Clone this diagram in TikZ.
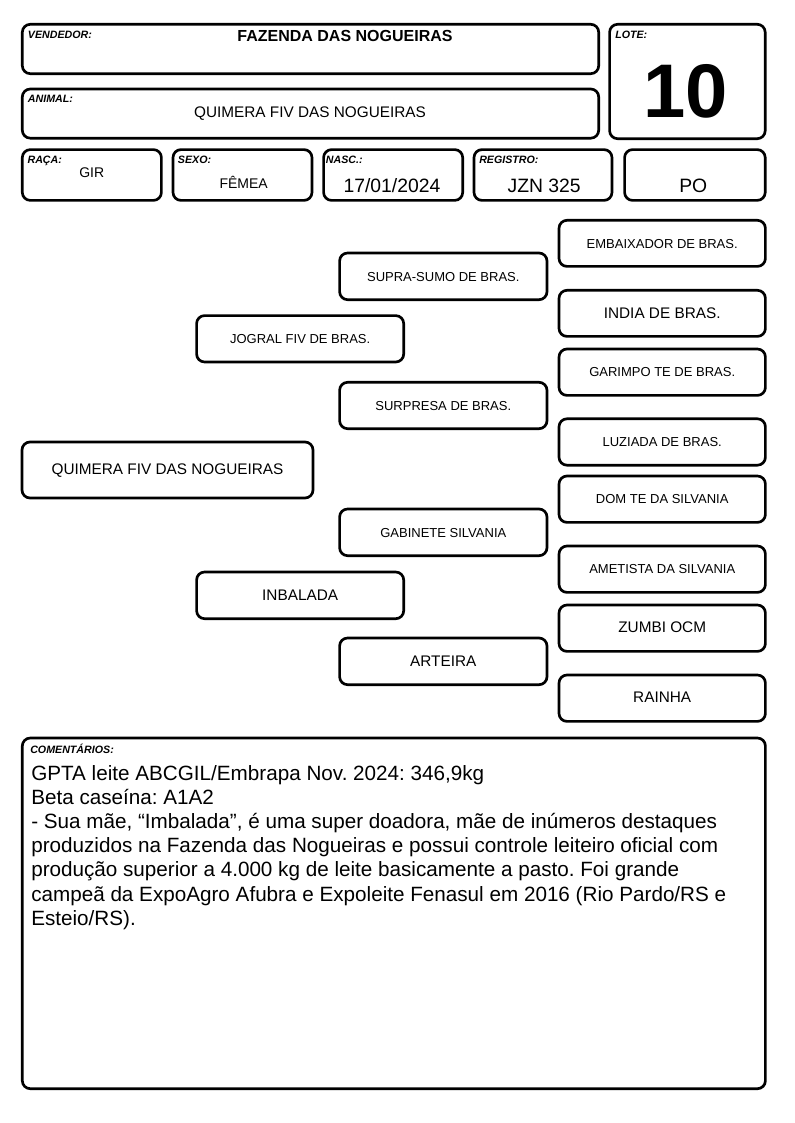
\documentclass[tikz,border=0pt]{standalone}
\usepackage{fontspec}
\setmainfont{Liberation Sans}
\usetikzlibrary{calc}
\frenchspacing
\tikzset{
  frame/.style={draw=black, line width=2pt, rounded corners=6pt},
  lbl/.style={anchor=base west, inner sep=0, font=\fontsize{8}{9}\selectfont\bfseries\itshape},
  val/.style={anchor=base, inner sep=0},
  ptext/.style={inner sep=0, text height=0.716em, text depth=0pt},
  small/.style={font=\fontsize{9.75}{11}\selectfont},
  big/.style={font=\fontsize{11.5}{13}\selectfont}
}
% \cardbox{name}{x1}{y1}{x2}{y2} : outer edges of a rounded box
\newcommand{\cardbox}[5]{%
  \draw[frame] ($(#2,#3)+(1.3,1.3)$) rectangle ($(#4,#5)+(-1.3,-1.3)$);
  \coordinate (#1) at ($(#2,#3)!0.5!(#4,#5)$);}
% \pedbox{name}{x1}{y1}{x2}{y2}{style}{text}
\newcommand{\pedbox}[7]{%
  \cardbox{#1box}{#2}{#3}{#4}{#5}
  \node[ptext,#6] (#1) at (#1box) {#7};}
\begin{document}
\begin{tikzpicture}[x=0.75pt,y=-0.75pt]
\useasboundingbox (0,0) rectangle (794,1123);
\fill[white] (0,0) rectangle (794,1123);

% ---------- header ----------
\cardbox{vend}{21}{23}{600}{75}
\node[lbl] (vendlbl) at (27.7,39) {VENDEDOR:};
\node[val, font=\fontsize{12}{14}\selectfont\bfseries] (vendval) at (345,42) {FAZENDA DAS NOGUEIRAS};

\cardbox{lote}{608.3}{23}{766.5}{140}
\node[lbl] (lotelbl) at (615,39) {LOTE:};
\node[inner sep=0, font=\fontsize{57}{60}\selectfont\bfseries] (loteval) at (686,91.7) {10};

\cardbox{anim}{21}{87.7}{600}{139.5}
\node[lbl] (animlbl) at (27.7,103) {ANIMAL:};
\node[val, font=\fontsize{11.5}{13}\selectfont] (animval) at (310,118) {QUIMERA FIV DAS NOGUEIRAS};

\cardbox{raca}{21}{148.3}{162.7}{201.7}
\node[lbl] (racalbl) at (27.3,164) {RAÇA:};
\node[val, font=\fontsize{10.5}{12}\selectfont] (racaval) at (91.8,178) {GIR};

\cardbox{sexo}{171.7}{148.3}{313.3}{201.7}
\node[lbl] (sexolbl) at (177.7,164) {SEXO:};
\node[val, font=\fontsize{10.5}{12}\selectfont] (sexoval) at (243.7,189) {FÊMEA};

\cardbox{nasc}{322.3}{148.3}{464}{201.7}
\node[lbl] (nasclbl) at (325.7,164) {NASC.:};
\node[val, font=\fontsize{14.5}{16}\selectfont] (nascval) at (392,192.5) {17/01/2024};

\cardbox{reg}{472.7}{148.3}{613.3}{201.7}
\node[lbl] (reglbl) at (479,164) {REGISTRO:};
\node[val, font=\fontsize{14.5}{16}\selectfont] (regval) at (544.2,192.5) {JZN 325};

\cardbox{po}{623.3}{148.3}{766.5}{201.7}
\node[val, font=\fontsize{14.5}{16}\selectfont] (poval) at (693.3,192.5) {PO};

% ---------- pedigree ----------
\pedbox{embaixador}{557.7}{219}{766.7}{267.7}{small}{EMBAIXADOR DE BRAS.}
\pedbox{suprasumo}{338.3}{251.7}{548.3}{301}{small}{SUPRA-SUMO DE BRAS.}
\pedbox{india}{557.7}{289}{766.7}{337.7}{big}{INDIA DE BRAS.}
\pedbox{jogral}{195.3}{314.3}{405}{363.3}{small}{JOGRAL FIV DE BRAS.}
\pedbox{garimpo}{557.7}{347.7}{766.7}{396.7}{small}{GARIMPO TE DE BRAS.}
\pedbox{surpresa}{338.3}{381}{548.3}{430}{small}{SURPRESA DE BRAS.}
\pedbox{luziada}{557.7}{417.5}{766.7}{466.5}{small}{LUZIADA DE BRAS.}
\pedbox{quimera}{20.7}{440.7}{314.3}{499.3}{big}{QUIMERA FIV DAS NOGUEIRAS}
\pedbox{domte}{557.7}{474.7}{766.7}{523.7}{small}{DOM TE DA SILVANIA}
\pedbox{gabinete}{338.3}{507.7}{548.3}{557}{small}{GABINETE SILVANIA}
\pedbox{ametista}{557.7}{544.7}{766.7}{593.7}{small}{AMETISTA DA SILVANIA}
\pedbox{inbalada}{195.3}{570.7}{405}{620}{big}{INBALADA}
\pedbox{zumbi}{557.7}{603.7}{766.7}{652.7}{big}{ZUMBI OCM}
\pedbox{arteira}{338.3}{636.7}{548.3}{686}{big}{ARTEIRA}
\pedbox{rainha}{557.7}{673.7}{766.7}{722.7}{big}{RAINHA}

% ---------- comments ----------
\cardbox{coment}{21}{736.7}{766.7}{1090}
\node[lbl] (comentlbl) at (30,753) {COMENTÁRIOS:};
\node[anchor=base west, inner sep=0] (comenttxt) at (31,780) {\parbox[t]{980pt}{\raggedright\fontsize{15.5}{18.15}\selectfont
GPTA leite ABCGIL/Embrapa Nov. 2024: 346,9kg\\
Beta caseína: A1A2\\
- Sua mãe, “Imbalada”, é uma super doadora, mãe de inúmeros destaques\\
produzidos na Fazenda das Nogueiras e possui controle leiteiro oficial com\\
produção superior a 4.000 kg de leite basicamente a pasto. Foi grande\\
campeã da ExpoAgro Afubra e Expoleite Fenasul em 2016 (Rio Pardo/RS e\\
Esteio/RS).}};
\end{tikzpicture}
\end{document}
